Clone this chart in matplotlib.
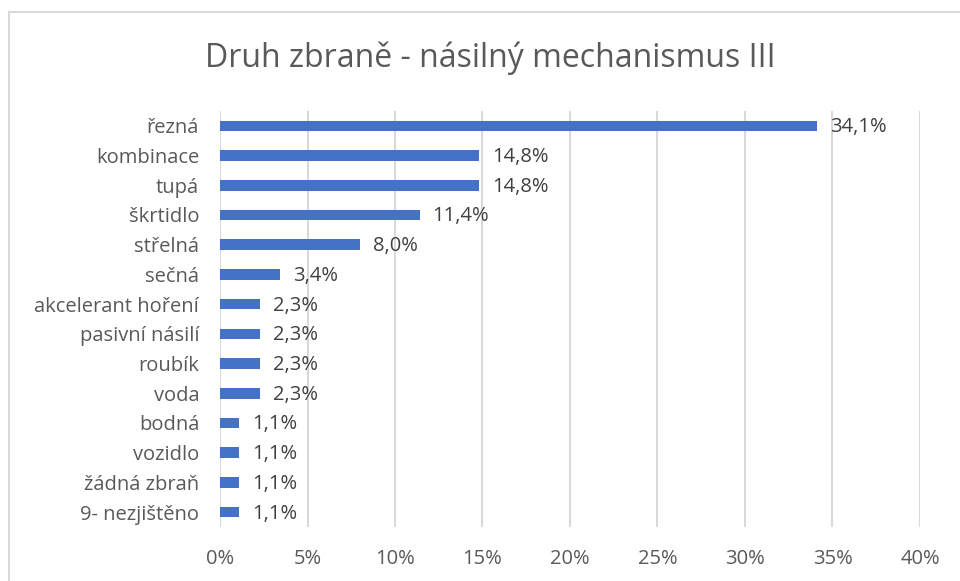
import matplotlib
matplotlib.use("Agg")
import matplotlib.pyplot as plt
from matplotlib.patches import Rectangle
from matplotlib.ticker import FuncFormatter, MultipleLocator

categories = ["řezná", "kombinace", "tupá", "škrtidlo", "střelná", "sečná",
              "akcelerant hoření", "pasivní násilí", "roubík", "voda",
              "bodná", "vozidlo", "žádná zbraň", "9- nezjištěno"]
values = [34.1, 14.8, 14.8, 11.4, 8.0, 3.4, 2.3, 2.3, 2.3, 2.3, 1.1, 1.1, 1.1, 1.1]
title = "Druh zbraně - násilný mechanismus III"

plt.rcParams['font.family'] = ['Open Sans', 'DejaVu Sans']

fig = plt.figure(figsize=(9.6, 5.81), dpi=100)
W, H = 960, 581
ax = fig.add_axes([220 / W, 54 / H, 700 / W, 416 / H])

ypos = list(range(len(categories)))
ax.barh(ypos, values, height=0.36, color="#4472C4", zorder=3)
ax.set_ylim(len(categories) - 0.5, -0.5)
ax.set_xlim(0, 40)
ax.xaxis.set_major_locator(MultipleLocator(5))
ax.xaxis.set_major_formatter(FuncFormatter(lambda v, p: f"{int(v)}%"))
ax.set_yticks(ypos)
ax.set_yticklabels(categories)
ax.tick_params(axis='both', length=0, labelsize=14.5, labelcolor="#595959")
ax.tick_params(axis='y', pad=15)
ax.tick_params(axis='x', pad=16)
ax.grid(axis='x', color="#D9D9D9", linewidth=1.5, zorder=0)
for s in ax.spines.values():
    s.set_visible(False)

for y, v in zip(ypos, values):
    ax.text(v + 0.75, y + 0.05, f"{v:.1f}%".replace(".", ","), va='center', ha='left',
            fontsize=14.5, color="#404040")

fig.text(490 / W, 1 - 58 / H, title, ha='center', va='center', fontsize=23,
         color="#595959")

fig.patches.append(Rectangle((9 / W, -0.5), 2, 1 - 12 / H + 0.5,
                             transform=fig.transFigure, fill=False,
                             edgecolor="#D9D9D9", linewidth=1.5))

fig.savefig("out.png", dpi=100)
